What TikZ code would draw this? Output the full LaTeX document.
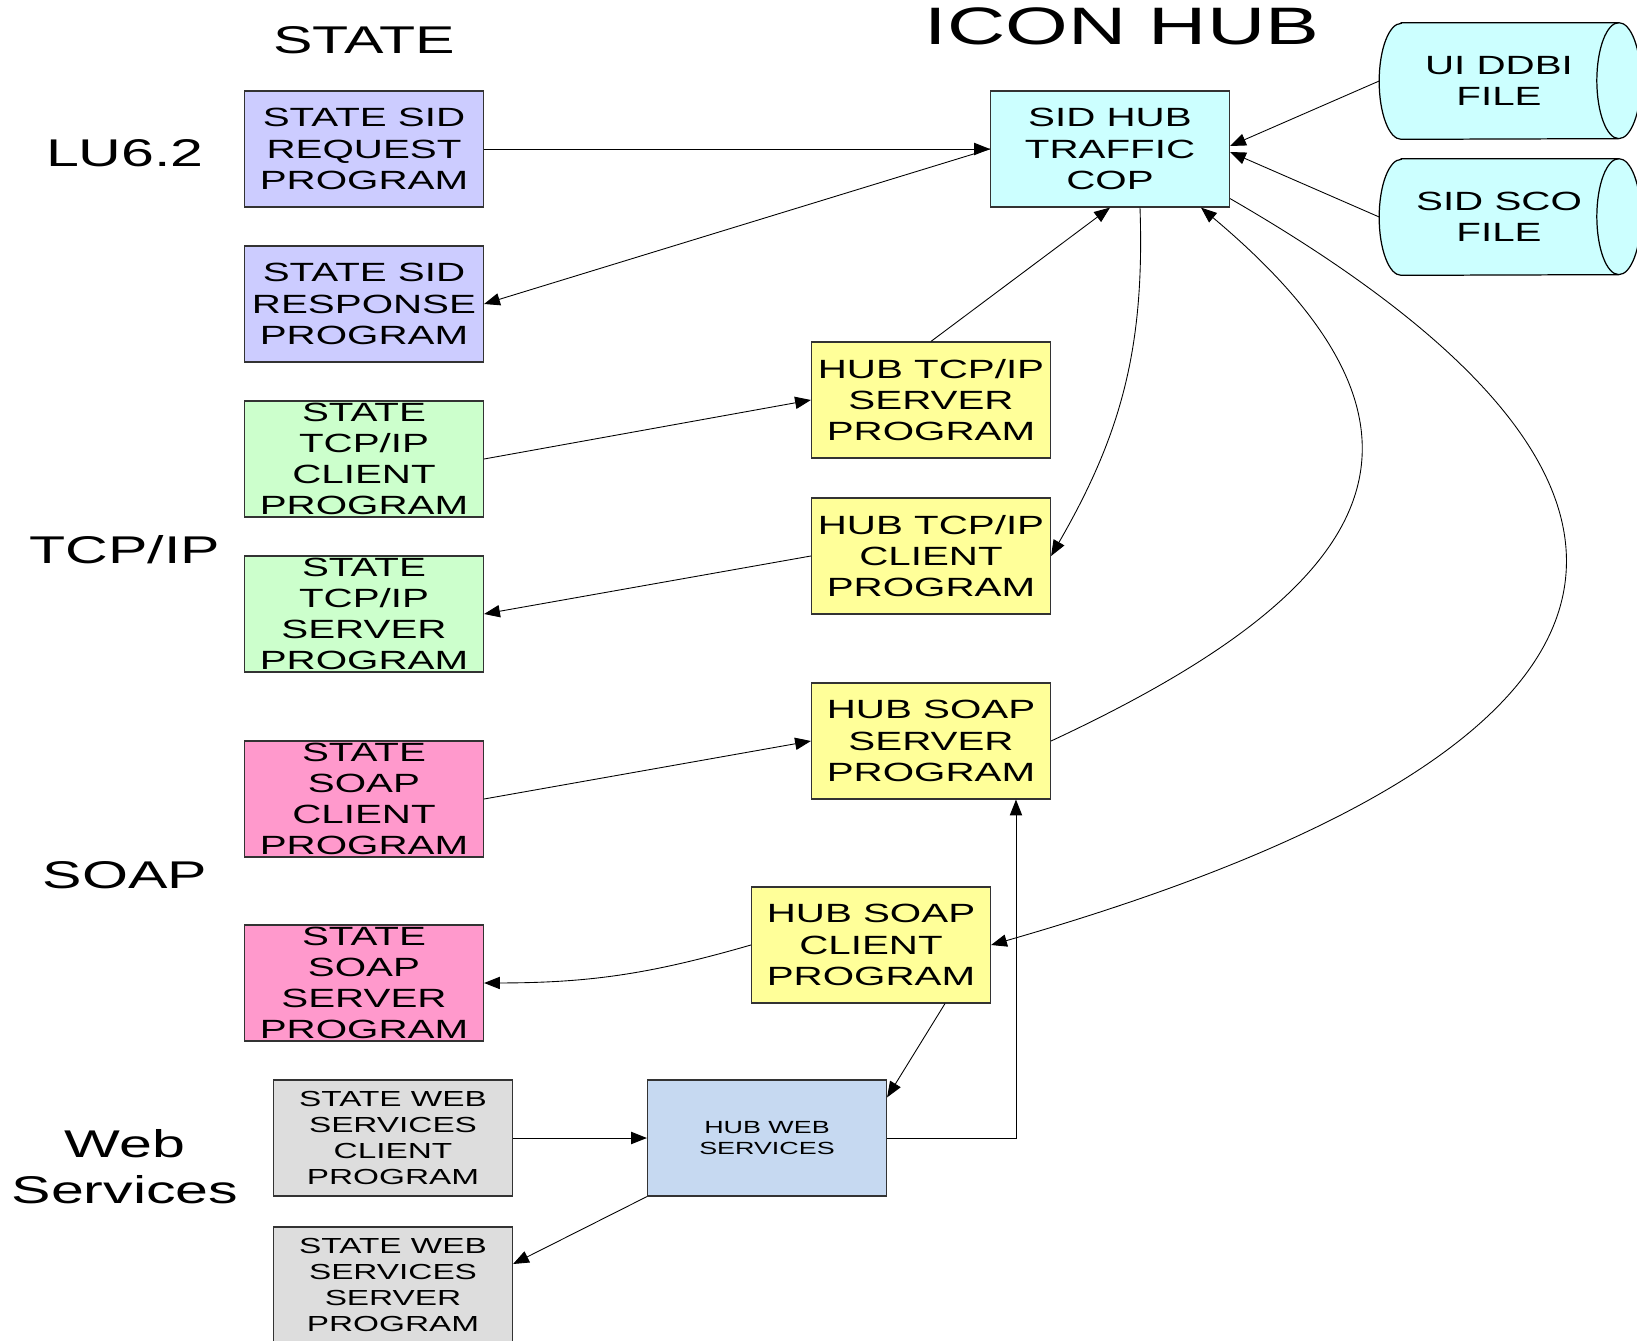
\documentclass[tikz,border=0pt]{standalone}
\usepackage{fontspec}
\setmainfont{Liberation Sans}[FakeStretch=1.53]
\usetikzlibrary{arrows.meta,backgrounds}
\definecolor{sidblue}{HTML}{CCCCFF}
\definecolor{tcpgreen}{HTML}{CCFFCC}
\definecolor{soappink}{HTML}{FF99CC}
\definecolor{hubyellow}{HTML}{FFFF99}
\definecolor{hubcyan}{HTML}{CCFFFF}
\definecolor{wsgray}{HTML}{DDDDDD}
\definecolor{webblue}{HTML}{C6D9F1}

\begin{document}
\begin{tikzpicture}[x=0.02cm,y=-0.02cm,
  box/.style={draw=black!80,line width=0.7pt,minimum width=4.78cm,minimum height=2.32cm,inner sep=0pt,align=center,font=\fontsize{15}{17.8}\selectfont},
  wsbox/.style={box,fill=wsgray,font=\fontsize{12.4}{14.8}\selectfont},
  file/.style={minimum width=4.78cm,minimum height=2.32cm,inner sep=0pt,align=center,font=\fontsize{15}{17.8}\selectfont},
  title/.style={font=\fontsize{22}{26}\selectfont,align=center},
  conn/.style={line width=0.5pt,-{Triangle[length=9pt,width=7pt]}}]
\useasboundingbox (0,0) rectangle (1637,1341);
\node[title] (statehead) at (364,40) {STATE};
\node[title,font=\fontsize{30}{36}\selectfont] (hubhead) at (1122,26) {ICON HUB};
\node[title] (lu) at (125,153) {LU6.2};
\node[title] (tcp) at (125,550) {TCP/IP};
\node[title] (soap) at (125,875) {SOAP};
\node[title] (web) at (125,1167) {Web\\Services};

\node[box,fill=sidblue] (req) at (364,149) {STATE SID\\REQUEST\\PROGRAM};
\node[box,fill=sidblue] (resp) at (364,304) {STATE SID\\RESPONSE\\PROGRAM};
\node[box,fill=tcpgreen] (tcpc) at (364,459) {STATE\\TCP/IP\\CLIENT\\PROGRAM};
\node[box,fill=tcpgreen] (tcps) at (364,614) {STATE\\TCP/IP\\SERVER\\PROGRAM};
\node[box,fill=soappink] (soapc) at (364,799) {STATE\\SOAP\\CLIENT\\PROGRAM};
\node[box,fill=soappink] (soaps) at (364,983) {STATE\\SOAP\\SERVER\\PROGRAM};
\node[wsbox] (wsc) at (393,1138) {STATE WEB\\SERVICES\\CLIENT\\PROGRAM};
\node[wsbox] (wss) at (393,1285) {STATE WEB\\SERVICES\\SERVER\\PROGRAM};
\node[box,fill=hubcyan] (cop) at (1110,149) {SID HUB\\TRAFFIC\\COP};
\node[box,fill=hubyellow] (hts) at (931,400) {HUB TCP/IP\\SERVER\\PROGRAM};
\node[box,fill=hubyellow] (htc) at (931,556) {HUB TCP/IP\\CLIENT\\PROGRAM};
\node[box,fill=hubyellow] (hss) at (931,741) {HUB SOAP\\SERVER\\PROGRAM};
\node[box,fill=hubyellow] (hsc) at (871,945) {HUB SOAP\\CLIENT\\PROGRAM};
\node[box,fill=webblue,font=\fontsize{10}{12}\selectfont] (hws) at (767,1138) {HUB WEB\\SERVICES};
\node[file] (ddbi) at (1499,81) {UI DDBI\\FILE};
\node[file] (sco) at (1499,217) {SID SCO\\FILE};

\begin{scope}[on background layer]
\foreach \f in {ddbi,sco}{
  \draw[fill=hubcyan,line width=0.7pt] ([xshift=0.44cm]\f.north west) -- (\f.north east)
    arc[start angle=90,end angle=-90,x radius=0.44cm,y radius=1.16cm]
    -- ([xshift=0.44cm]\f.south west)
    arc[start angle=270,end angle=90,x radius=0.44cm,y radius=1.16cm] -- cycle;
  \draw[line width=0.7pt] (\f.north east) arc[start angle=90,end angle=270,x radius=0.44cm,y radius=1.16cm];
}
\end{scope}

\path[conn]
(req.east) edge (cop.west)
(cop.west) edge (resp.east)
(tcpc.east) edge (hts.west)
(hts.north) edge (cop.south)
([xshift=0.6cm]cop.south) edge[out=-88,in=60] (htc.east)
(htc.west) edge (tcps.east)
(soapc.east) edge (hss.west)
(hss.east) edge[out=25,in=-40,looseness=1.65] ([xshift=1.82cm]cop.south)
([yshift=0.18cm]cop.south east) edge[out=-30,in=16,looseness=2.1] (hsc.east)
(hsc.west) edge[bend left=8] (soaps.east)
([xshift=1.48cm]hsc.south) edge ([yshift=-0.36cm]hws.north east)
(wsc.east) edge (hws.west)
(hws.south west) edge ([yshift=0.42cm]wss.east)
(ddbi.west) edge ([yshift=0.06cm]cop.east)
(sco.west) edge ([yshift=-0.06cm]cop.east);
\draw[conn] (hws.east) -| ([xshift=1.7cm]hss.south);
\end{tikzpicture}
\end{document}
